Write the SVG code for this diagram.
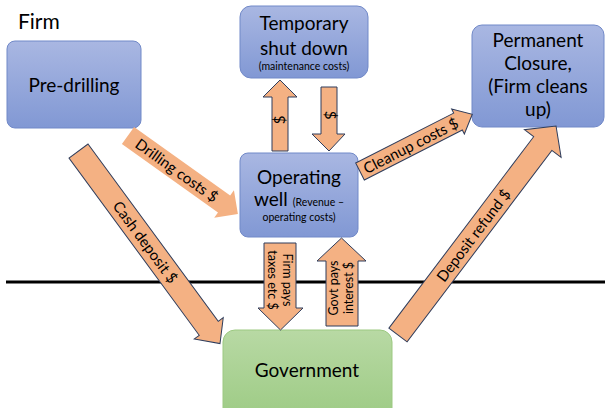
<svg xmlns="http://www.w3.org/2000/svg" width="605" height="408" viewBox="0 0 605 408">
<defs>
<linearGradient id="blue" x1="0" y1="0" x2="0" y2="1">
<stop offset="0" stop-color="#a9b7e2"/>
<stop offset="1" stop-color="#8198d4"/>
</linearGradient>
<linearGradient id="green" x1="0" y1="0" x2="0" y2="1">
<stop offset="0" stop-color="#b8d9a4"/>
<stop offset="1" stop-color="#9bca82"/>
</linearGradient>
<style>
text { font-family: Lato, "Liberation Sans", sans-serif; fill: #000; }
.box { fill: url(#blue); stroke: #7189c8; stroke-width: 1; }
.gov { fill: url(#green); stroke: #9cc981; stroke-width: 1; }
.arr { fill: #f4b183; stroke: #2f3d5c; stroke-width: 1; stroke-linejoin: miter; }
.arrn { fill: #f4b183; stroke: none; }
.big { font-size: 19px; text-anchor: middle; }
.small { font-size: 10.5px; }
.lbl { font-size: 15px; text-anchor: middle; }
.vl { font-size: 12.5px; text-anchor: middle; }
</style>
</defs>
<rect width="605" height="408" fill="#ffffff"/>

<g id="divider">
<line x1="6" y1="282" x2="605" y2="282" stroke="#000" stroke-width="3"/>
</g>

<g id="firm-label">
<text x="18" y="29" font-size="21">Firm</text>
</g>

<g id="pre-drilling">
<rect class="box" x="7" y="41" width="134" height="87" rx="8"/>
<text class="big" x="74" y="92">Pre-drilling</text>
</g>

<g id="temporary-shut-down">
<rect class="box" x="240" y="6" width="128" height="72" rx="11"/>
<text class="big" x="304" y="30">Temporary</text>
<text class="big" x="304" y="55">shut down</text>
<text class="small" x="304" y="70" text-anchor="middle">(maintenance costs)</text>
</g>

<g id="permanent-closure">
<rect class="box" x="472" y="25" width="132" height="102" rx="10"/>
<text class="big" x="538" y="47">Permanent</text>
<text class="big" x="538" y="70">Closure,</text>
<text class="big" x="538" y="93">(Firm cleans</text>
<text class="big" x="538" y="116">up)</text>
</g>

<g id="operating-well">
<rect class="box" x="240" y="153" width="118" height="84" rx="8"/>
<text class="big" x="299" y="184">Operating</text>
<text x="299" y="206" text-anchor="middle"><tspan font-size="19">well </tspan><tspan font-size="10.5">(Revenue –</tspan></text>
<text class="small" x="299" y="221" text-anchor="middle">operating costs)</text>
</g>

<g id="government">
<rect class="gov" x="223" y="330" width="169" height="95" rx="12"/>
<text class="big" x="307" y="377">Government</text>
</g>

<g id="connectors">
<g id="drilling-costs" transform="translate(128,135.5) rotate(35.5)">
<path class="arrn" d="M0,-10.5 L118,-10.5 L118,-17 L135,0 L118,17 L118,10.5 L0,10.5 Z"/>
<text class="lbl" x="60" y="5.5">Drilling costs $</text>
</g>
<g id="cash-deposit" transform="translate(78.5,151) rotate(53.7)">
<path class="arr" d="M0,-11.8 L220,-11.8 L220,-18 L239,0 L220,18 L220,11.8 L0,11.8 Z"/>
<text class="lbl" x="113" y="5.5">Cash deposit $</text>
</g>
<g id="deposit-refund" transform="translate(398,335) rotate(-52.9)">
<path class="arr" d="M0,-11.4 L240,-11.4 L240,-23 L262,0 L240,23 L240,11.4 L0,11.4 Z"/>
<text class="lbl" x="125" y="5.5">Deposit refund $</text>
</g>
<g id="cleanup-costs" transform="translate(360,171.5) rotate(-27)">
<path class="arr" d="M0,-9.5 L110,-9.5 L110,-14 L126,0 L110,14 L110,9.5 L0,9.5 Z"/>
<text class="lbl" x="57" y="5.5">Cleanup costs $</text>
</g>
<g id="to-temporary">
<path class="arr" d="M272,151 L272,97 L263,97 L280,80 L297,97 L288,97 L288,151 Z"/>
<text class="lbl" font-size="13" transform="translate(280,120) rotate(-90)" y="4.5">$</text>
</g>
<g id="from-temporary">
<path class="arr" d="M321,87 L337,87 L337,134 L345,134 L329,151 L312,134 L321,134 Z"/>
<text class="lbl" font-size="13" transform="translate(329,115) rotate(90)" y="4.5">$</text>
</g>
<g id="taxes">
<path class="arr" d="M264,243 L296,243 L296,308 L303,308 L280.5,330 L258,308 L264,308 Z"/>
<g transform="translate(280,280) rotate(90)">
<text class="vl" x="0" y="-3">Firm pays</text>
<text class="vl" x="0" y="12">taxes etc $</text>
</g>
</g>
<g id="interest">
<path class="arr" d="M326,326 L326,261 L317,261 L341.5,238 L366,261 L358,261 L358,326 Z"/>
<g transform="translate(341,288) rotate(-90)">
<text class="vl" x="0" y="-3">Govt pays</text>
<text class="vl" x="0" y="12">interest $</text>
</g>
</g>
</g>
</svg>
